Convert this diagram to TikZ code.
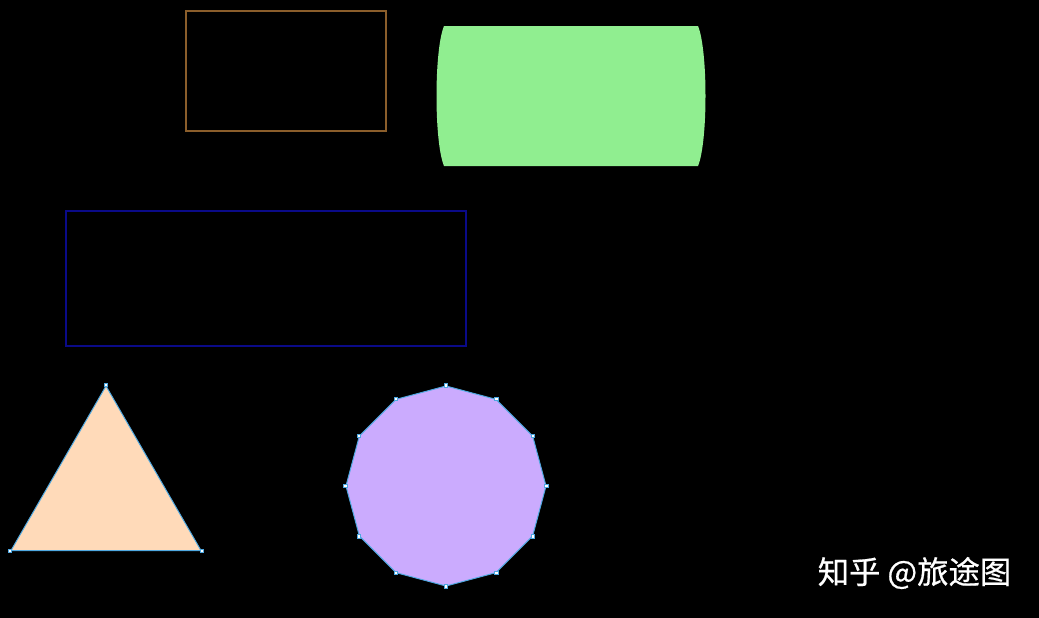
\documentclass[tikz,border=0pt]{standalone}
\usepackage{fontspec}
\newfontfamily\cjk[FakeBold=0.6]{Noto Sans CJK SC}
\usepackage{tikz}
\usetikzlibrary{%
  shapes.geometric,%
  calc%
}
\definecolor{boxbrown}{HTML}{8B5E2B}
\definecolor{boxnavy}{HTML}{0A0A88}
\definecolor{pipegreen}{HTML}{90EE90}
\definecolor{peach}{HTML}{FFDAB9}
\definecolor{lilac}{HTML}{CBABFE}
\definecolor{edgeblue}{HTML}{4FA8E0}

\begin{document}
\begin{tikzpicture}[x=0.025cm, y=-0.025cm,
  frame/.style={draw, line width=1.4pt, inner sep=0pt},
  poly/.style={regular polygon, draw=edgeblue, line width=0.7pt, inner sep=0pt},
  vtx/.style={rectangle, draw=edgeblue, fill=white, line width=0.6pt, inner sep=0pt, minimum size=0.09cm}]
\fill[black] (0,0) rectangle (1039,618);
\useasboundingbox (0,0) rectangle (1039,618);

\node[frame, draw=boxbrown, minimum width=5cm, minimum height=3cm] (top) at (286,71) {};
\fill[pipegreen] (444,26) -- (698,26)
  .. controls (708,50) and (708,142) .. (698,166) -- (444,166)
  .. controls (434,142) and (434,50) .. (444,26) -- cycle;
\node[frame, draw=boxnavy, minimum width=10cm, minimum height=3.375cm] (wide) at (266,278.5) {};

\node[poly, regular polygon sides=3, fill=peach, minimum size=5.485cm] (tri) at (106,495.7) {};
\node[poly, regular polygon sides=12, shape border rotate=15, fill=lilac, minimum size=5cm] (dodeca) at (446,486) {};
\foreach \i in {1,2,3}
  \node[vtx] at (tri.corner \i) {};
\foreach \i in {1,...,12}
  \node[vtx] at (dodeca.corner \i) {};

\node[text=white, font=\cjk\fontsize{22.3}{26}\selectfont] (mark) at (914.5,573) {知乎 @旅途图};
\end{tikzpicture}
\end{document}
